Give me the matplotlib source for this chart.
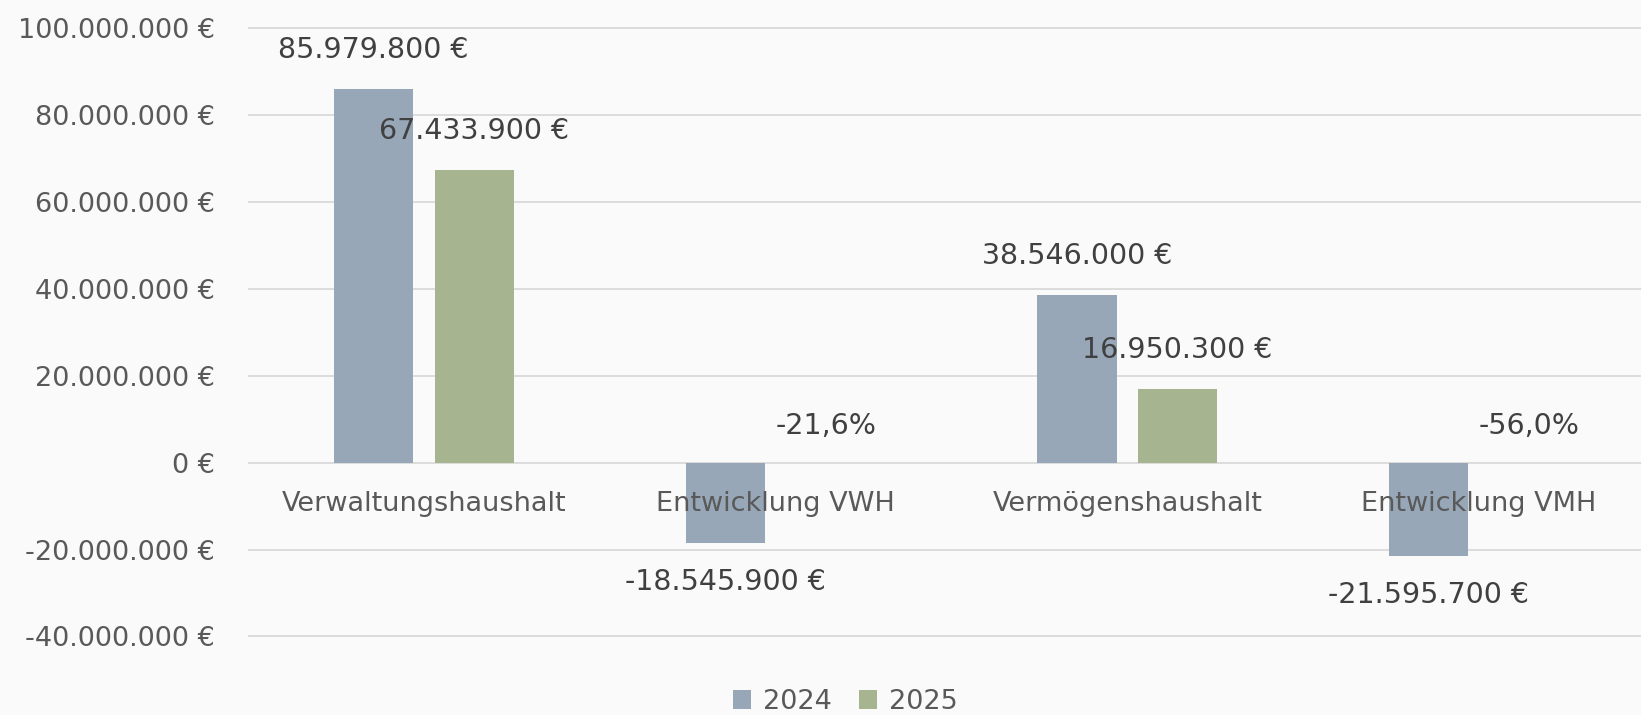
import matplotlib
matplotlib.use("Agg")
import matplotlib.pyplot as plt
from matplotlib.ticker import FuncFormatter, MultipleLocator
from matplotlib.patches import Patch
import numpy as np

categories = ["Verwaltungshaushalt", "Entwicklung VWH", "Vermögenshaushalt", "Entwicklung VMH"]
series_names = ["2024", "2025"]
values_2024 = [85979800, -18545900, 38546000, -21595700]
values_2025 = [67433900, -0.216, 16950300, -0.560]
is_percent_2025 = [False, True, False, True]

col_2024 = "#97A7B8"
col_2025 = "#A6B590"
bg = "#FAFAFA"
grid_col = "#D9D9D9"
tick_col = "#595959"
label_col = "#404040"


def euro(v):
    return f"{v:,.0f}".replace(",", ".") + " €"


def pct(v):
    return f"{v*100:.1f}%".replace(".", ",")


W, H = 1641, 715
fig = plt.figure(figsize=(W / 100, H / 100), dpi=100, facecolor=bg)

# axes placement (pixels)
px_left, px_right = 248, 1641
y0_px = 462.6
px_per_m = 4.345
ymin, ymax = -42e6, 102e6
top_px = y0_px - ymax / 1e6 * px_per_m
bot_px = y0_px - ymin / 1e6 * px_per_m
ax = fig.add_axes([px_left / W, 1 - bot_px / H, (px_right - px_left) / W, (bot_px - top_px) / H])
ax.set_facecolor(bg)

x = np.arange(len(categories))
bw = 0.225
off = 0.143
b1 = ax.bar(x - off, values_2024, bw, color=col_2024, zorder=2)
b2 = ax.bar(x + off, values_2025, bw, color=col_2025, zorder=2)

ax.set_ylim(ymin, ymax)
ax.set_xlim(-0.5, 3 + (1641 - 1479) / 351.7)
ax.yaxis.set_major_locator(MultipleLocator(20e6))
ax.yaxis.set_major_formatter(FuncFormatter(lambda v, p: euro(v)))
ax.grid(axis="y", color=grid_col, linewidth=1.3, zorder=0)
ax.set_axisbelow(True)
for s in ax.spines.values():
    s.set_visible(False)
ax.tick_params(axis="y", length=0, pad=24, labelsize=19.5, labelcolor=tick_col)
ax.set_xticks([])

# data labels
for xi, v in zip(x - off, values_2024):
    dy = 39 if v >= 0 else -39
    ax.annotate(euro(v), (xi, v), xytext=(0, dy), textcoords="offset pixels",
                ha="center", va="center", fontsize=20.5, color=label_col, zorder=5)
for xi, v, isp in zip(x + off, values_2025, is_percent_2025):
    if isp:
        txt, dy = pct(v), 37
    else:
        txt, dy = euro(v), 39
    ax.annotate(txt, (xi, v), xytext=(0, dy), textcoords="offset pixels",
                ha="center", va="center", fontsize=20.5, color=label_col, zorder=5)

# category labels at the zero line
for xi, c in zip(x, categories):
    ax.annotate(c, (xi, 0), xytext=(0, -41), textcoords="offset pixels",
                ha="center", va="center", fontsize=19.5, color=tick_col, zorder=5)

handles = [Patch(facecolor=col_2024), Patch(facecolor=col_2025)]
fig.legend(handles, series_names, loc="center", bbox_to_anchor=(845.5 / W, 1 - 702 / H),
           ncol=2, frameon=False, fontsize=19.5, labelcolor=tick_col,
           handlelength=0.65, handleheight=0.65, handletextpad=0.45, columnspacing=1.0)

fig.savefig("out.png", dpi=100, facecolor=bg)
